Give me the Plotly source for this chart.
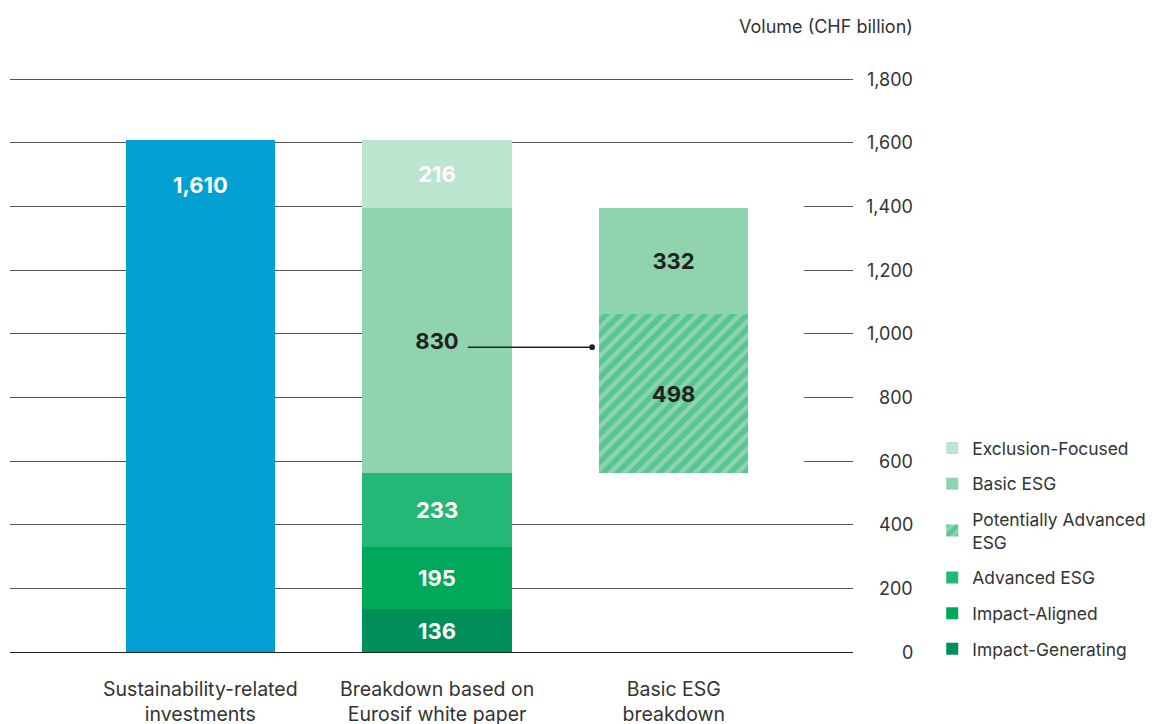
import plotly.graph_objects as go

# data
categories = ["Sustainability-related<br>investments",
              "Breakdown based on<br>Eurosif white paper",
              "Basic ESG<br>breakdown"]
total_sri = [1610]
impact_generating = [136]
impact_aligned = [195]
advanced_esg = [233]
basic_esg = [830]
exclusion_focused = [216]
basic_esg_split = [332]
potentially_advanced = [498]
tick_vals = [0, 200, 400, 600, 800, 1000, 1200, 1400, 1600, 1800]
tick_text = ["0", "200", "400", "600", "800", "1,000", "1,200", "1,400", "1,600", "1,800"]

FONT = "Inter"
DARK = "#222222"
BAR_W = 0.63
LBL = dict(size=22, family=FONT, weight="bold")

fig = go.Figure()

# blue total bar (label placed near the top, like the original)
fig.add_trace(go.Bar(
    x=[categories[0]], y=total_sri, width=BAR_W, marker_color="#00A0D3",
    marker_line_width=0, showlegend=False, name="Total",
))
fig.add_annotation(x=categories[0], y=total_sri[0], yshift=-45, text=f"{total_sri[0]:,}",
                   showarrow=False, yanchor="middle",
                   font=dict(color="white", **LBL))

# Eurosif stack
stack = [
    ("Impact-Generating", impact_generating, "#008E5A", "white", 6),
    ("Impact-Aligned", impact_aligned, "#00A85A", "white", 5),
    ("Advanced ESG", advanced_esg, "#24B877", "white", 4),
    ("Basic ESG", basic_esg, "#8FD4AE", DARK, 2),
    ("Exclusion-Focused", exclusion_focused, "#BCE5CF", "white", 1),
]
for name, vals, col, tcol, rank in stack:
    fig.add_trace(go.Bar(
        x=[categories[1]], y=vals, width=BAR_W, marker_color=col, name=name,
        marker_line_width=0,
        texttemplate="%{y:,}", textposition="inside", insidetextanchor="middle",
        textfont=dict(color=tcol, **LBL),
        legendgroup=name, legendrank=rank,
    ))

# Basic ESG breakdown (floating)
base = impact_generating[0] + impact_aligned[0] + advanced_esg[0]
fig.add_trace(go.Bar(
    x=[categories[2]], y=[base], width=BAR_W, marker_color="rgba(0,0,0,0)",
    marker_line_width=0, hoverinfo="skip", showlegend=False, name="base",
))
fig.add_trace(go.Bar(
    x=[categories[2]], y=potentially_advanced, width=BAR_W,
    name="Potentially Advanced<br>ESG", legendgroup="pa", legendrank=3,
    marker=dict(color="#8FD4AE", line_width=0,
                pattern=dict(shape="/", fgcolor="#22B874", bgcolor="#8FD4AE",
                             size=10, solidity=0.55)),
    texttemplate="%{y:,}", textposition="inside", insidetextanchor="middle",
    textfont=dict(color=DARK, **LBL),
))
fig.add_trace(go.Bar(
    x=[categories[2]], y=basic_esg_split, width=BAR_W, marker_color="#8FD4AE",
    marker_line_width=0,
    texttemplate="%{y:,}", textposition="inside", insidetextanchor="middle",
    textfont=dict(color=DARK, **LBL),
    showlegend=False, name="Basic ESG",
))

# white panel hiding gridlines behind third bar
fig.add_shape(type="rect", xref="x", yref="y", x0=1.3, x1=2.55, y0=520, y1=1460,
              fillcolor="white", line_width=0, layer="between")

# connector 830 -> breakdown
ly = 958
fig.add_shape(type="line", xref="x", yref="y", x0=1.13, x1=1.655, y0=ly, y1=ly,
              line=dict(color=DARK, width=1.5))
fig.add_shape(type="circle", xref="x", yref="y", x0=1.655 - 0.012, x1=1.655 + 0.012,
              y0=ly - 9, y1=ly + 9, fillcolor=DARK, line_width=0)

# right-aligned tick labels
for v, t in zip(tick_vals, tick_text):
    fig.add_annotation(x=1.0735, xref="paper", y=v, yref="y", text=t, showarrow=False,
                       xanchor="right", yanchor="middle",
                       font=dict(size=18, color="#333333", family=FONT))

fig.add_annotation(x=1.0735, xref="paper", y=1.0855, yref="paper",
                   text="Volume (CHF billion)", showarrow=False,
                   xanchor="right", yanchor="middle",
                   font=dict(size=18, color="#333333", family=FONT))

fig.update_layout(
    barmode="stack",
    width=1149, height=716,
    margin=dict(l=2, r=304, t=68, b=72, autoexpand=False),
    plot_bgcolor="white", paper_bgcolor="white",
    font=dict(family=FONT, color=DARK),
    bargap=0,
    xaxis=dict(range=[-0.804, 2.757], showgrid=False, showline=False,
               tickfont=dict(size=19.5, color="#333333", family=FONT),
               ticklabelstandoff=23, zeroline=False),
    yaxis=dict(range=[0, 1810], tickvals=tick_vals, showticklabels=False,
               gridcolor="#555555", gridwidth=1, zeroline=True,
               zerolinecolor="#222222", zerolinewidth=1),
    legend=dict(x=1.094, xanchor="left", y=0.385, yanchor="top",
                font=dict(size=17.4, color="#333333", family=FONT),
                tracegroupgap=10, traceorder="grouped", bgcolor="rgba(0,0,0,0)"),
)

fig.write_html("out.html")
